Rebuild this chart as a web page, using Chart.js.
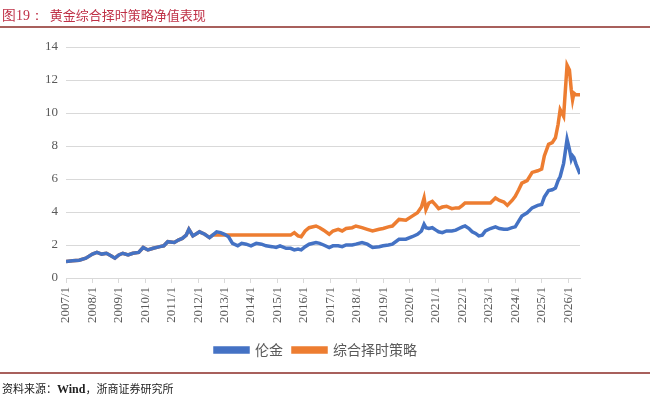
<!DOCTYPE html>
<html>
<head>
<meta charset="utf-8">
<script src="https://cdn.jsdelivr.net/npm/chart.js@4.4.1/dist/chart.umd.min.js"></script>
<style>
  body { margin: 0; background: #fff; }
  #wrap { position: relative; width: 650px; height: 402px; }
  #title { position: absolute; left: 2px; top: 5px; font-family: "Noto Sans CJK SC", serif; font-size: 13px; color: #bf3046; }
  #title .num { font-family: "Liberation Serif", serif; font-size: 14px; }
  #topline { position: absolute; left: 0; top: 26px; width: 650px; height: 2px; background: #a8605c; }
  #botline { position: absolute; left: 0; top: 372px; width: 650px; height: 2px; background: #a8605c; }
  #source { position: absolute; left: 2px; top: 380px; font-family: "Noto Sans CJK SC", serif; font-size: 11px; color: #222; }
  #source b { font-family: "Liberation Serif", serif; font-size: 12px; }
  #cv { position: absolute; left: 0; top: 0; }
</style>
</head>
<body>
<div id="wrap">
  <canvas id="cv" width="650" height="402"></canvas>
  <div id="title"><span class="num">图19：</span>&nbsp;&nbsp;黄金综合择时策略净值表现</div>
  <div id="topline"></div>
  <div id="botline"></div>
  <div id="source">资料来源：<b>Wind</b>，浙商证券研究所</div>
</div>
<script>
// dates en annees decimales
const dates = [
  2007.0, 2007.25, 2007.5, 2007.75, 2008.0, 2008.17, 2008.35, 2008.53, 2008.7, 2008.85,
  2009.0, 2009.15, 2009.35, 2009.53, 2009.75, 2009.92, 2010.1, 2010.3, 2010.55, 2010.7,
  2010.85, 2011.1, 2011.25, 2011.4, 2011.55, 2011.65, 2011.8, 2011.95, 2012.05, 2012.25,
  2012.43, 2012.55, 2012.7, 2012.85, 2013.0, 2013.15, 2013.3, 2013.5, 2013.65, 2013.82,
  2014.0, 2014.2, 2014.4, 2014.57, 2014.8, 2014.95, 2015.1, 2015.33, 2015.5, 2015.64,
  2015.78, 2015.9, 2016.05, 2016.2, 2016.46, 2016.6, 2016.75, 2016.96, 2017.1, 2017.3,
  2017.45, 2017.6, 2017.83, 2017.97, 2018.2, 2018.4, 2018.6, 2018.85, 2019.0, 2019.2,
  2019.35, 2019.6, 2019.86, 2020.1, 2020.3, 2020.45, 2020.55, 2020.62, 2020.73, 2020.86,
  2021.0, 2021.1, 2021.24, 2021.4, 2021.6, 2021.75, 2021.87, 2022.0, 2022.1, 2022.25,
  2022.37, 2022.5, 2022.62, 2022.75, 2022.87, 2023.06, 2023.25, 2023.4, 2023.57, 2023.7,
  2023.88, 2024.0, 2024.13, 2024.25, 2024.45, 2024.64, 2024.85, 2025.0, 2025.1, 2025.26,
  2025.4, 2025.52, 2025.62, 2025.7, 2025.83, 2025.96, 2026.05, 2026.12, 2026.17, 2026.22,
  2026.3, 2026.45
];

const gold = [
  1.0, 1.05, 1.08, 1.2, 1.45, 1.55, 1.45, 1.5, 1.35, 1.2,
  1.4, 1.5, 1.4, 1.5, 1.55, 1.85, 1.7, 1.8, 1.9, 1.95,
  2.2, 2.15, 2.3, 2.4, 2.6, 2.95, 2.55, 2.7, 2.8, 2.65,
  2.45, 2.6, 2.8, 2.75, 2.65, 2.5, 2.1, 1.95, 2.1, 2.05,
  1.95, 2.1, 2.05, 1.95, 1.9, 1.85, 1.95, 1.8, 1.8, 1.7,
  1.75, 1.7, 1.9, 2.05, 2.15, 2.1, 2.0, 1.85, 1.95, 1.95,
  1.9, 2.0, 2.0, 2.05, 2.15, 2.05, 1.85, 1.9, 1.95, 2.0,
  2.05, 2.35, 2.35, 2.5, 2.65, 2.85, 3.25, 3.05, 3.0, 3.05,
  2.9, 2.8, 2.75, 2.85, 2.85, 2.9, 3.0, 3.1, 3.15, 3.0,
  2.8, 2.7, 2.55, 2.6, 2.85, 3.0, 3.1, 3.0, 2.95, 2.95,
  3.05, 3.1, 3.45, 3.75, 3.95, 4.25, 4.4, 4.45, 4.9, 5.3,
  5.35, 5.45, 5.9, 6.15, 6.95, 8.4, 7.8, 7.2, 7.4, 7.3,
  6.9, 6.3
];

const strategy = [
  1.0, 1.05, 1.08, 1.2, 1.45, 1.55, 1.45, 1.5, 1.35, 1.2,
  1.4, 1.5, 1.4, 1.5, 1.55, 1.85, 1.7, 1.8, 1.9, 1.95,
  2.2, 2.15, 2.3, 2.4, 2.6, 2.95, 2.55, 2.7, 2.8, 2.65,
  2.45, 2.6, 2.6, 2.6, 2.6, 2.6, 2.6, 2.6, 2.6, 2.6,
  2.6, 2.6, 2.6, 2.6, 2.6, 2.6, 2.6, 2.6, 2.6, 2.75,
  2.55, 2.5, 2.85, 3.05, 3.15, 3.05, 2.9, 2.65, 2.85, 2.95,
  2.85, 3.0, 3.05, 3.15, 3.05, 2.95, 2.85, 2.95, 3.0, 3.1,
  3.15, 3.55, 3.5, 3.75, 3.95, 4.3, 4.85, 4.15, 4.55, 4.65,
  4.4, 4.2, 4.3, 4.35, 4.2, 4.25, 4.25, 4.4, 4.55, 4.55,
  4.55, 4.55, 4.55, 4.55, 4.55, 4.55, 4.85, 4.7, 4.6, 4.4,
  4.7, 4.95, 5.35, 5.75, 5.9, 6.4, 6.5, 6.6, 7.4, 8.1,
  8.2, 8.5, 9.3, 10.2, 9.8, 12.9, 12.6, 11.4, 10.8, 11.2,
  11.1, 11.1
];

const seriesNames = ['伦金', '综合择时策略'];
const colors = ['#4472C4', '#ED7D31'];

function toPoints(values) {
  return dates.map((d, i) => ({ x: d, y: values[i] }));
}

function isWhole(v) {
  return Math.abs(v - Math.round(v)) < 1e-6;
}

// decale la legende vers la droite comme dans l'original
const legendShift = {
  id: 'legendShift',
  afterLayout(chart) {
    chart.legend.left += 26;
    chart.legend.right += 26;
  }
};

const ctx = document.getElementById('cv').getContext('2d');
const chart = new Chart(ctx, {
  type: 'line',
  data: {
    datasets: [
      { label: seriesNames[0], data: toPoints(gold), borderColor: colors[0], backgroundColor: colors[0], borderWidth: 3.5, pointRadius: 0, tension: 0 },
      { label: seriesNames[1], data: toPoints(strategy), borderColor: colors[1], backgroundColor: colors[1], borderWidth: 3.5, pointRadius: 0, tension: 0 }
    ]
  },
  options: {
    responsive: false,
    animation: false,
    layout: { padding: { left: 0, right: 70, top: 47, bottom: 35 } },
    plugins: {
      tooltip: { enabled: false },
      legend: {
        position: 'bottom',
        labels: {
          boxWidth: 33,
          boxHeight: 4,
          padding: 10,
          color: '#595959',
          font: { family: '"Noto Sans CJK SC", sans-serif', size: 14 }
        }
      }
    },
    scales: {
      x: {
        type: 'linear',
        min: 2007,
        max: 2026.45,
        afterBuildTicks: function (scale) {
          scale.ticks = scale.ticks.filter(t => isWhole(t.value));
        },
        afterFit: function (scale) { scale.height = 55; },
        ticks: {
          stepSize: 1,
          includeBounds: false,
          autoSkip: false,
          minRotation: 90,
          maxRotation: 90,
          color: '#595959',
          padding: 4,
          font: { family: '"Liberation Serif", serif', size: 13 },
          callback: function (v) { return isWhole(v) ? Math.round(v) + '/1' : ''; }
        },
        grid: { drawOnChartArea: false, color: '#D9D9D9', tickLength: 5 },
        border: { color: '#D9D9D9' }
      },
      y: {
        min: 0,
        max: 14,
        afterFit: function (scale) { scale.width = 66; },
        ticks: {
          stepSize: 2,
          color: '#595959',
          padding: 8,
          font: { family: '"Liberation Serif", serif', size: 13 }
        },
        grid: { color: '#D9D9D9', drawTicks: false },
        border: { display: false }
      }
    }
  },
  plugins: [legendShift]
});
</script>
</body>
</html>
